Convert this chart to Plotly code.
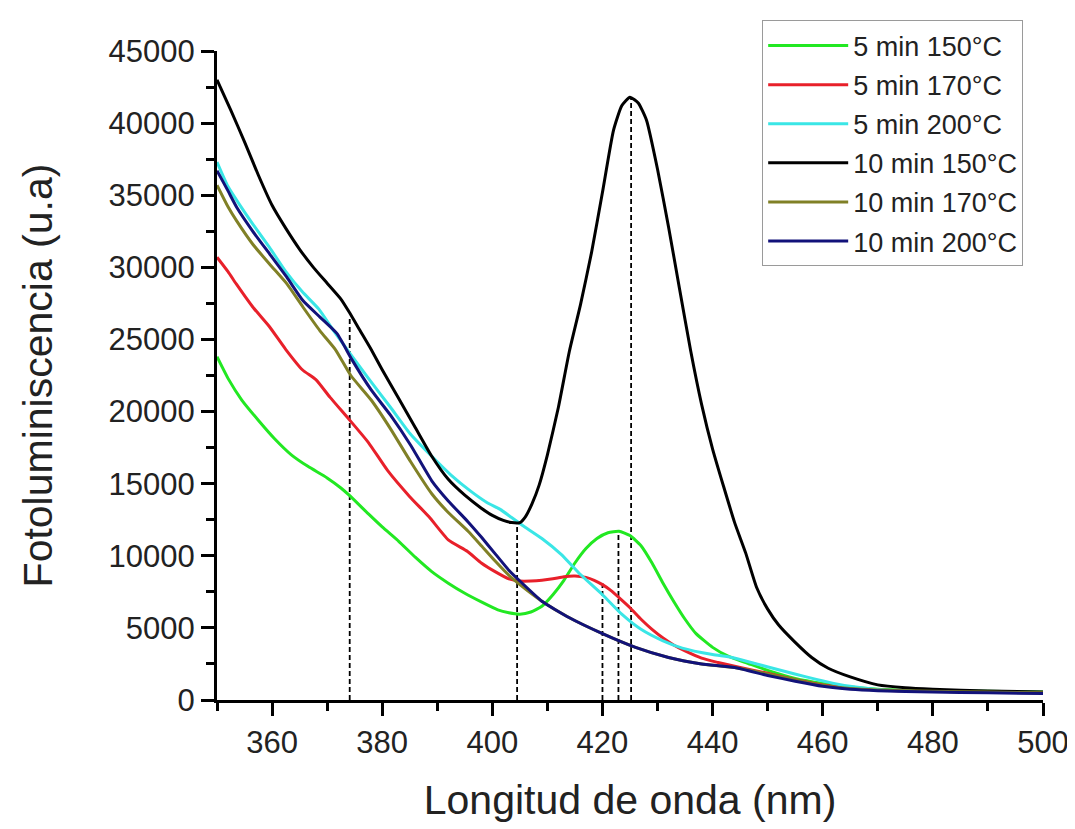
import plotly.graph_objects as go

# ---------------- data ----------------
series_names = ["5 min 150°C", "5 min 170°C", "5 min 200°C",
                "10 min 150°C", "10 min 170°C", "10 min 200°C"]
series_colors = ["#22e822", "#e8202a", "#3ae6e6", "#000000", "#808026", "#12127a"]

x_5min_150 = [350, 352, 354.5, 357.5, 360.5, 363.5, 366.5, 370, 372.5, 374, 377.5, 380, 383, 386,
              389, 392, 395, 398, 401, 403, 405, 407, 409, 411, 413, 415, 417, 419, 421, 423, 425,
              427, 429, 431, 433, 435, 437, 440, 443, 446, 450, 455, 460, 465, 470, 480, 490, 500]
y_5min_150 = [23800, 22300, 20800, 19400, 18100, 17000, 16200, 15400, 14700, 14200, 12900, 12000,
              11000, 9900, 8900, 8100, 7400, 6800, 6250, 6050, 5950, 6100, 6500, 7300, 8300, 9500,
              10500, 11200, 11600, 11700, 11400, 10700, 9500, 8100, 6800, 5600, 4600, 3650, 3000,
              2600, 2050, 1500, 1150, 900, 750, 650, 600, 550]

x_5min_170 = [350, 352, 353.5, 356.5, 359.5, 362.5, 365.5, 368, 370.5, 374, 377.5, 381, 385, 388.5,
              392, 395.5, 398, 400.5, 403, 405, 407, 409, 411, 413, 415, 417, 418.5, 420, 421.5, 423,
              425, 427, 429, 431, 433, 435, 438, 441, 445, 450, 455, 460, 465, 470, 480, 490, 500]
y_5min_170 = [30700, 29700, 28850, 27250, 25900, 24300, 22900, 22200, 21000, 19450, 17850, 15900,
              14100, 12700, 11100, 10300, 9500, 8900, 8400, 8250, 8250, 8300, 8400, 8550, 8600, 8500,
              8300, 8000, 7600, 7100, 6400, 5600, 4900, 4300, 3800, 3400, 2900, 2600, 2250, 1850,
              1400, 1050, 850, 700, 600, 550, 500]

x_5min_200 = [350, 352, 354, 356.5, 359.5, 362.5, 365.5, 368.5, 371, 374, 377.5, 381.5, 385, 389,
              392.5, 396, 399, 401.5, 403.5, 405.5, 409, 412.5, 416, 420, 423.5, 427, 431, 434.5,
              440, 443.5, 448, 452.5, 457, 462, 466, 471, 480, 490, 500]
y_5min_200 = [37300, 35600, 34400, 33000, 31400, 29700, 28300, 27100, 25700, 24100, 22300, 20300,
              18500, 16900, 15600, 14500, 13700, 13200, 12650, 12100, 11200, 10100, 8700, 7300, 5950,
              4900, 4100, 3600, 3150, 2950, 2500, 2050, 1600, 1150, 900, 700, 600, 550, 500]

x_10min_150 = [350, 352.5, 355, 357.5, 360, 362.5, 365, 367.5, 370, 372.5, 374, 376, 378, 380, 383,
               386, 389, 392, 395, 398, 400, 402, 403.5, 405, 406, 407.2, 408.5, 410, 412, 414, 416,
               418, 420, 422, 423.5, 425, 426.5, 428, 430, 432, 434, 436, 438, 440, 442, 444, 446,
               448, 450, 452, 455, 458, 461, 465, 470, 475, 480, 490, 500]
y_10min_150 = [43000, 40900, 38700, 36400, 34300, 32700, 31250, 30000, 28900, 27800, 26900, 25600,
               24300, 22900, 20900, 18900, 16900, 15300, 14200, 13300, 12800, 12450, 12300, 12300,
               12700, 13600, 14900, 17000, 20300, 24200, 27400, 31000, 35200, 39500, 41200, 41800,
               41400, 40200, 36800, 32800, 28500, 24250, 20500, 17400, 14800, 12300, 10200, 7800,
               6300, 5200, 4000, 2950, 2200, 1600, 1050, 850, 750, 620, 550]

x_10min_170 = [350, 352, 353.6, 356.5, 359.6, 362.7, 365.6, 368.7, 371.5, 374.3, 378, 381.6, 385.2,
               389, 392, 395.6, 398, 400.6, 403, 405, 409, 414, 420, 426, 432, 438, 444, 450, 455,
               460, 465, 470, 480, 490, 500]
y_10min_170 = [35700, 34200, 33200, 31600, 30200, 28850, 27250, 25600, 24300, 22500, 20800, 18750,
               16500, 14300, 13000, 11700, 10700, 9600, 8650, 8000, 6850, 5700, 4600, 3650, 2950,
               2500, 2250, 1800, 1400, 1000, 800, 700, 600, 550, 500]

x_10min_200 = [350, 352, 353.6, 356.5, 359.6, 362.7, 365.6, 368.7, 371.8, 374.5, 378, 381.6, 385.2,
               389, 392, 395.6, 398, 400.6, 403, 405, 409, 414, 420, 426, 432, 438, 444, 450, 455,
               460, 465, 470, 480, 490, 500]
y_10min_200 = [36700, 35300, 34150, 32500, 30900, 29300, 27700, 26550, 25400, 23600, 21500, 19700,
               17650, 15200, 13800, 12350, 11300, 10100, 9000, 8250, 6850, 5700, 4600, 3650, 2950,
               2500, 2250, 1700, 1300, 950, 750, 650, 550, 500, 450]

# dashed marker lines: wavelength and height at which each stops
marker_x = [374.1, 404.5, 420.0, 422.9, 425.2]
marker_top = [26600, 12300, 8100, 11700, 41800]

x_tick_labels = ["360", "380", "400", "420", "440", "460", "480", "500"]
y_tick_labels = ["0", "5000", "10000", "15000", "20000", "25000", "30000", "35000", "40000", "45000"]

# ---------------- figure ----------------
xs = [x_5min_150, x_5min_170, x_5min_200, x_10min_150, x_10min_170, x_10min_200]
ys = [y_5min_150, y_5min_170, y_5min_200, y_10min_150, y_10min_170, y_10min_200]

fig = go.Figure()

for mx, mt in zip(marker_x, marker_top):
    fig.add_trace(go.Scatter(x=[mx, mx], y=[0, mt], mode="lines", showlegend=False,
                             hoverinfo="skip",
                             line=dict(color="black", width=1.8, dash="5px,3px")))

for i, (name, color, xv, yv) in enumerate(zip(series_names, series_colors, xs, ys)):
    fig.add_trace(go.Scatter(x=xv, y=yv, mode="lines", name=name, legendgroup=f"g{i}",
                             line=dict(color=color, width=3, shape="spline", smoothing=0.5)))

font_family = "Arial, 'Liberation Sans', sans-serif"

fig.update_layout(
    width=1075, height=829,
    paper_bgcolor="white", plot_bgcolor="white",
    margin=dict(l=209, r=40, t=37, b=137),
    font=dict(family=font_family, color="#222222"),
    showlegend=True,
    legend=dict(
        x=0.976, y=1.047, xanchor="right", yanchor="top",
        bordercolor="#9a9a9a", borderwidth=1, bgcolor="white",
        font=dict(size=27, family=font_family, color="#222222"),
        tracegroupgap=1, itemwidth=80,
    ),
    xaxis=dict(
        range=[350, 500], showgrid=False, zeroline=False, automargin=False,
        showline=True, linecolor="black", linewidth=3,
        ticks="outside", ticklen=13, tickwidth=3, tickcolor="black",
        tickvals=[int(t) for t in x_tick_labels], ticktext=x_tick_labels,
        tickfont=dict(size=31, family=font_family, color="#222222"),
        minor=dict(dtick=10, tick0=350, ticks="outside", ticklen=8, tickwidth=2.5,
                   tickcolor="black", showgrid=False),
        title=dict(text="Longitud de onda (nm)", font=dict(size=41, family=font_family,
                                                           color="#222222"), standoff=27),
    ),
    yaxis=dict(
        range=[0, 45000], showgrid=False, zeroline=False, automargin=False,
        showline=True, linecolor="black", linewidth=3,
        ticks="outside", ticklen=13, tickwidth=3, tickcolor="black",
        tickvals=[int(t) for t in y_tick_labels], ticktext=y_tick_labels,
        tickfont=dict(size=31, family=font_family, color="#222222"),
        minor=dict(dtick=2500, tick0=0, ticks="outside", ticklen=8, tickwidth=2.5,
                   tickcolor="black", showgrid=False),
        title=dict(text="Fotoluminiscencia (u.a)", font=dict(size=41, family=font_family,
                                                             color="#222222"), standoff=44),
    ),
)

fig.write_html("out.html")
